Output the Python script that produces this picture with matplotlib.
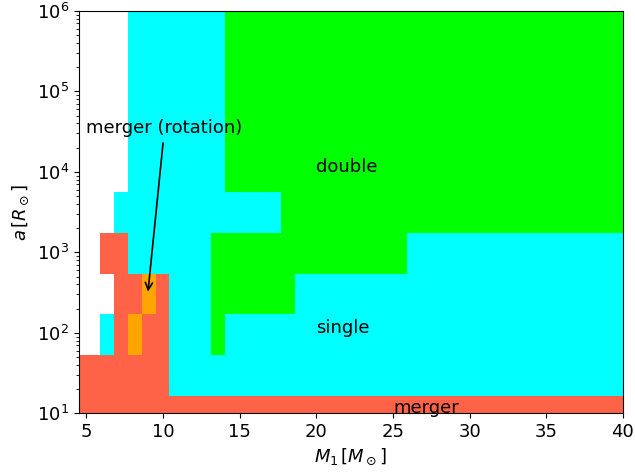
import numpy as np
import matplotlib
matplotlib.use('Agg')
import matplotlib.pyplot as plt
from matplotlib.colors import ListedColormap

# grid cell boundaries
m1_edges = [4.05, 5.87, 6.78, 7.69, 8.60, 9.51, 10.42, 13.15, 14.06, 17.70, 18.63, 25.9, 40.5]
log_a_edges = [0.715, 1.22, 1.725, 2.23, 2.735, 3.24, 3.745, 6.27]

# outcome per cell, bottom row first
# W = none, R = merger, O = merger (rotation), C = single, G = double
outcome_rows = [
    "RRRRRRRRRRRR",
    "RRRRRRCCCCCC",
    "WCRORRCGCCCC",
    "WWRRORCGGGCC",
    "WRRCCCCGGGGC",
    "WWCCCCCCCGGG",
    "WWWCCCCCGGGG",
]
outcome_keys = "WROCG"
outcome_colors = ["white", "tomato", "orange", "cyan", "lime"]

codes = np.array([[outcome_keys.index(ch) for ch in row] for row in outcome_rows])
a_edges = 10 ** np.array(log_a_edges)

plt.rcParams['font.size'] = 13

fig, ax = plt.subplots(figsize=(6.35, 4.74), dpi=100)
ax.pcolormesh(m1_edges, a_edges, codes, cmap=ListedColormap(outcome_colors),
              vmin=-0.5, vmax=len(outcome_colors) - 0.5, antialiased=False, linewidth=0)
ax.set_yscale('log')
ax.set_xlim(4.5, 40)
ax.set_ylim(1e1, 1e6)

ax.text(20, 1e4, 'double')
ax.text(20, 1e2, 'single')
ax.text(25, 1e1, 'merger')
ax.annotate('merger (rotation)', xy=(9, 300), xytext=(5, 3e4),
            arrowprops=dict(arrowstyle='->', color='k', lw=1.2))

ax.set_xlabel(r'$M_1\,[M_\odot]$')
ax.set_ylabel(r'$a\,[R_\odot]$')

fig.subplots_adjust(left=0.124, right=0.981, top=0.977, bottom=0.128)
fig.savefig('out.png')
